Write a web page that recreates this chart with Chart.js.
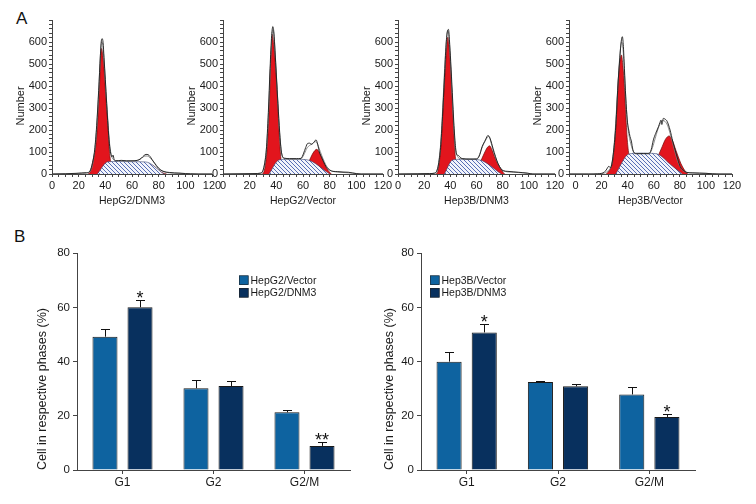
<!DOCTYPE html>
<html>
<head>
<meta charset="utf-8">
<script src="https://cdn.jsdelivr.net/npm/chart.js@4.4.1/dist/chart.umd.min.js"></script>
<style>
html,body{margin:0;padding:0;background:#fff;}
#wrap{position:relative;width:756px;height:504px;overflow:hidden;background:#fff;}
#wrap canvas{position:absolute;}
.panel{position:absolute;font-family:'Liberation Sans Narrow','Liberation Sans',Arial,sans-serif;font-size:17px;line-height:17px;color:#111;}
</style>
</head>
<body>
<div id="wrap">
  <div class="panel" style="left:16px;top:10px">A</div>
  <div class="panel" style="left:14px;top:228px">B</div>
</div>
<script>
// ---------------- DATA ----------------
// Panel A: DNA histograms, points are [channel, number]
const histXTicksMax = 120;

const hepg2Dnm3Raw = [[0,0],[10,1],[18,3],[22,5],[26,6],[28,10],[30,40],[32,110],[33.5,220],[35,380],[36.3,540],[37,605],[37.6,615],[38.3,598],[39,530],[40,430],[41,320],[42,220],[43,140],[44,95],[45,78],[45.8,86],[46.6,66],[48,60],[52,62],[56,60],[60,60],[63,61],[65,64],[67,72],[69,84],[70.5,89],[72,88],[73.5,80],[75,66],[77,48],[79,32],[81,20],[84,11],[88,7],[92,5],[96,4],[100,2],[104,1],[110,0],[120,0]];
const hepg2Dnm3Fit = [[0,0],[20,2],[26,4],[29,15],[31,60],[33,170],[35,370],[36.5,560],[37.3,600],[38,590],[39,520],[40.3,390],[41.5,280],[43,150],[44.3,90],[46,66],[48,61],[55,59],[62,60],[66,67],[68.5,78],[70.5,82],[72.5,79],[74.5,68],[77,50],[80,27],[83,13],[87,6],[95,3],[105,0],[120,0]];
const hepg2Dnm3G1 = [[27,0],[28.5,8],[30.5,55],[33.3,155],[35.3,350],[36.3,500],[37.2,571],[38.1,540],[38.9,490],[40.4,350],[42.2,200],[43,110],[44,56],[45,25],[47,5],[48,0]];
const hepg2Dnm3S = [[34,0],[42,56],[50,57],[60,56],[70,55],[84,0]];
const hepg2Dnm3G2 = [[68,0],[70,20],[72,35],[74,41],[75.5,39],[77,32],[79,22],[81,12],[83,5],[86,0]];

const hepg2VectorRaw = [[0,0],[15,1],[24,2],[28,4],[29.5,10],[31,40],[32.5,110],[34,280],[35.3,480],[36.5,630],[37.4,670],[38.2,640],[39,560],[40,450],[41.2,320],[42.5,190],[43.6,110],[44.6,80],[46,72],[50,70],[55,70],[58.5,71],[60.5,95],[62,120],[63.5,139],[65,140],[66.5,135],[68,143],[69.8,155],[71,135],[72.3,100],[74,75],[75.5,55],[77.4,33],[80,18],[82.4,12],[86,11],[90,9],[94,8],[97,5],[100,2],[104,0],[120,0]];
const hepg2VectorFit = [[0,0],[22,1],[28,3],[30,15],[31.5,60],[33,150],[34.5,330],[35.8,520],[36.9,640],[37.6,655],[38.5,610],[39.6,500],[41,340],[42.4,190],[43.8,100],[45.5,72],[50,67],[56,67],[59,72],[61,92],[63,118],[65,130],[67,138],[69,147],[70.5,142],[72,118],[74,85],[76,56],[78,32],[80.5,17],[84,10],[90,7],[97,4],[103,0],[120,0]];
const hepg2VectorG1 = [[29.5,0],[30.7,10],[32,50],[33.2,124],[34.5,276],[35.7,503],[36.5,594],[37.1,635],[38,590],[38.8,540],[39.5,480],[40.8,351],[42,200],[43.3,79],[44.5,35],[46,10],[48,0]];
const hepg2VectorS = [[34.5,0],[42,64],[48,67],[55,67],[62.7,65],[80,0]];
const hepg2VectorG2 = [[58,0],[62,25],[65.3,68],[67.5,95],[70.3,112],[72.5,95],[74.8,63],[76.5,40],[78.6,18],[81.2,0]];

const hep3bDnm3Raw = [[0,0],[15,1],[24,2],[28,4],[29.5,12],[31,45],[32.5,120],[34,260],[35.5,440],[36.8,590],[37.8,650],[38.6,657],[39.3,610],[40.3,510],[41.5,370],[42.8,220],[44,120],[45,88],[46.2,84],[47.5,76],[49,70],[55,68],[60,68],[62,80],[64.3,124],[66.8,155],[67.8,168],[68.7,175],[69.5,172],[70.5,160],[72.6,117],[74.5,80],[76.4,48],[78.5,25],[80.3,15],[84,12],[88,10],[92,8],[95.4,6],[99,4],[103,0],[120,0]];
const hep3bDnm3Fit = [[0,0],[22,1],[28,3],[30,20],[31.5,70],[33,170],[34.5,340],[36,520],[37.3,630],[38.2,650],[39,620],[40,520],[41.3,370],[42.6,220],[44,110],[45.5,80],[48,70],[55,67],[60,69],[62.5,90],[64.5,125],[66.5,148],[68.5,168],[69.5,170],[70.8,150],[72.5,112],[74.5,75],[76.5,45],[79,22],[82,12],[88,8],[96,5],[104,0],[120,0]];
const hep3bDnm3G1 = [[29,0],[30.3,8],[31.5,50],[32.8,124],[34,240],[34.9,351],[36,460],[36.7,533],[37.4,590],[38.1,622],[38.9,590],[40,503],[41.3,351],[42.6,200],[43.8,79],[45,35],[47,8],[49,0]];
const hep3bDnm3S = [[35.4,0],[41.8,64],[48,67],[55,67],[62.3,64],[79,0]];
const hep3bDnm3G2 = [[57,0],[61,30],[64.1,70],[66,95],[68,118],[70,128],[71.8,110],[73.8,79],[75.8,52],[77.7,33],[79.5,14],[81.5,0]];

const hep3bVectorRaw = [[-5,0],[10,0],[17,1],[20,3],[22,8],[23.5,18],[25.6,35],[26.8,28],[28,50],[29.5,120],[31,230],[32.5,400],[34,530],[35,600],[35.9,624],[36.6,590],[37.5,480],[38.5,350],[39.6,250],[40.8,200],[41.8,170],[42.8,150],[44,110],[45.4,94],[47,92],[52,93],[56,92],[58,110],[59.7,155],[61.5,185],[63.6,215],[64.8,235],[65.6,245],[66.2,225],[67.4,253],[68.5,250],[70.2,240],[72.5,200],[74.5,150],[76.4,109],[78.5,65],[80.3,33],[83,15],[85.4,7],[90,5],[95,4],[100,3],[105,1],[110,0],[120,0]];
const hep3bVectorFit = [[-5,0],[15,0],[20,2],[23,6],[25,15],[27,30],[28.5,70],[30,160],[31.5,300],[33,450],[34.3,560],[35.4,600],[36.4,570],[37.5,460],[38.8,320],[40,220],[41.5,160],[43,125],[44.5,100],[46.5,93],[52,92],[57,95],[59,120],[61,160],[63,200],[65,230],[67,243],[68.8,238],[70.5,222],[72.5,185],[74.5,140],[76.5,95],[78.5,55],[81,25],[84,10],[90,5],[100,3],[108,0],[120,0]];
const hep3bVectorG1 = [[23.5,0],[25,8],[26.5,22],[28.2,48],[29.5,110],[30.8,200],[31.8,310],[32.8,427],[34,510],[35.2,541],[36.2,500],[37.2,427],[38.5,276],[39.7,155],[41,86],[42.5,45],[44,18],[46,0]];
const hep3bVectorS = [[30.8,0],[41,91],[50,95],[58,94],[64,88],[73,42],[82,0]];
const hep3bVectorG2 = [[56,0],[60,40],[64.1,92],[66.5,125],[69,158],[71.8,173],[74.5,150],[76.9,109],[78.8,78],[80.8,48],[83.5,18],[86,0]];

// Panel B: cell-cycle bar charts
const phases = ['G1', 'G2', 'G2/M'];
const hepg2VectorPct = [49.2, 30.2, 21.3];
const hepg2VectorSem = [2.9, 2.9, 0.7];
const hepg2Dnm3Pct = [60.1, 31.0, 8.9];
const hepg2Dnm3Sem = [2.5, 1.7, 1.3];
const hepg2Sig = ['*', '', '**'];
const hep3bVectorPct = [40.0, 32.5, 27.9];
const hep3bVectorSem = [3.4, 0.5, 2.6];
const hep3bDnm3Pct = [50.8, 30.9, 19.6];
const hep3bDnm3Sem = [3.0, 0.7, 1.0];
const hep3bSig = ['*', '', '*'];

// ---------------- STYLE ----------------
const FONT = "'Liberation Sans Narrow','Liberation Sans',Arial,sans-serif";
const TXT = '#1a1a1a';
const AXIS = '#444';
const RED = '#e2151d';
const BLUE = '#0e63a0';
const NAVY = '#08305e';

function makeHatch() {
  const c = document.createElement('canvas');
  c.width = 4; c.height = 4;
  const g = c.getContext('2d');
  g.fillStyle = '#f2f4fb'; g.fillRect(0, 0, 4, 4);
  g.strokeStyle = '#4660ad'; g.lineWidth = 0.9;
  g.beginPath();
  g.moveTo(-1, -1); g.lineTo(5, 5);
  g.moveTo(-1, 3); g.lineTo(1, 5);
  g.moveTo(3, -1); g.lineTo(5, 1);
  g.stroke();
  return g.createPattern(c, 'repeat');
}
const HATCH = makeHatch();

const extras = {
  id: 'extras',
  afterDatasetsDraw(chart, args, opts) {
    const ctx = chart.ctx;
    const ys = chart.scales.y;
    ctx.save();
    chart.data.datasets.forEach((ds, di) => {
      if (!ds.errors) return;
      const meta = chart.getDatasetMeta(di);
      meta.data.forEach((el, i) => {
        const top = ys.getPixelForValue(ds.data[i] + ds.errors[i]);
        const x = Math.round(el.x) + 0.5;
        const ty = Math.round(top) + 0.5;
        ctx.strokeStyle = '#111'; ctx.lineWidth = 1;
        ctx.beginPath();
        ctx.moveTo(x, el.y); ctx.lineTo(x, ty);
        ctx.moveTo(x - 4.5, ty); ctx.lineTo(x + 4.5, ty);
        ctx.stroke();
        if (ds.sig && ds.sig[i]) {
          ctx.fillStyle = '#111';
          ctx.font = '18px ' + FONT;
          ctx.textAlign = 'center';
          ctx.textBaseline = 'alphabetic';
          ctx.fillText(ds.sig[i], el.x, top + 4);
        }
      });
    });
    ctx.restore();
  },
  afterDraw(chart, args, opts) {
    const ctx = chart.ctx;
    ctx.save();
    if (opts.yTitle) {
      const t = opts.yTitle;
      ctx.translate(t.x, t.y);
      ctx.rotate(-Math.PI / 2);
      ctx.fillStyle = TXT;
      ctx.font = t.size + 'px ' + FONT;
      ctx.textAlign = 'center';
      ctx.textBaseline = 'middle';
      ctx.fillText(t.text, 0, 0);
      ctx.setTransform(1, 0, 0, 1, 0, 0);
    }
    if (opts.legend) {
      const L = opts.legend;
      chart.data.datasets.forEach((ds, i) => {
        const y = L.y + i * L.step;
        ctx.fillStyle = ds.backgroundColor;
        ctx.fillRect(L.x, y, L.box, L.box);
        ctx.strokeStyle = '#222'; ctx.lineWidth = 0.6;
        ctx.strokeRect(L.x + 0.3, y + 0.3, L.box - 0.6, L.box - 0.6);
        ctx.fillStyle = TXT;
        ctx.font = L.size + 'px ' + FONT;
        ctx.textAlign = 'left';
        ctx.textBaseline = 'middle';
        ctx.fillText(ds.label, L.x + L.box + 2, y + L.box / 2 + 0.5);
      });
    }
    ctx.restore();
  }
};

function makeCanvas(left, top, w, h) {
  const c = document.createElement('canvas');
  c.width = Math.round(w); c.height = Math.round(h);
  c.style.left = left + 'px'; c.style.top = top + 'px';
  c.style.width = Math.round(w) + 'px'; c.style.height = Math.round(h) + 'px';
  document.getElementById('wrap').appendChild(c);
  return c;
}
const toXY = a => a.map(p => ({x: p[0], y: p[1]}));

function histogram(spec) {
  const yW = 42, padR = 14;
  const w = spec.axisRight - spec.axisLeft + yW + padR;
  const cv = makeCanvas(spec.axisLeft - yW, 8, w, 204);
  new Chart(cv, {
    type: 'line',
    data: {
      datasets: [
        {label: 'data', data: toXY(spec.raw), borderColor: '#1c1c1c', borderWidth: 0.9, fill: false, order: 0},
        {label: 'fit', data: toXY(spec.fit), borderColor: '#808080', borderWidth: 0.9, fill: false, order: 1},
        {label: 'S', data: toXY(spec.s), borderColor: '#39456e', borderWidth: 0.6, backgroundColor: HATCH, fill: 'origin', order: 2},
        {label: 'G1', data: toXY(spec.g1), borderColor: '#6e0b0b', borderWidth: 0.7, backgroundColor: RED, fill: 'origin', order: 3},
        {label: 'G2/M', data: toXY(spec.g2), borderColor: '#6e0b0b', borderWidth: 0.7, backgroundColor: RED, fill: 'origin', order: 3}
      ]
    },
    options: {
      responsive: false, animation: false, events: [],
      elements: {point: {radius: 0}, line: {cubicInterpolationMode: 'monotone'}},
      layout: {padding: {top: 12, right: padR, left: 0, bottom: 0}},
      plugins: {
        legend: {display: false}, tooltip: {enabled: false},
        extras: {yTitle: {text: 'Number', x: yW - 31, y: 98, size: 11}}
      },
      scales: {
        x: {
          type: 'linear', min: spec.xMin, max: histXTicksMax,
          grid: {drawOnChartArea: false, tickLength: 3, color: AXIS},
          border: {color: AXIS},
          ticks: {stepSize: 5, autoSkip: false, maxRotation: 0, padding: 2, color: TXT, font: {family: FONT, size: 11},
            callback: v => (v % 20 === 0 && v >= 0) ? String(v) : ''},
          title: {display: true, text: spec.title, color: TXT, font: {family: FONT, size: 10.5}, padding: {top: 0, bottom: 5}},
          afterFit: s => { s.height = 38; }
        },
        y: {
          min: 0, max: 700,
          grid: {drawOnChartArea: false, tickLength: 3, color: AXIS},
          border: {color: AXIS},
          ticks: {stepSize: 20, autoSkip: false, padding: 2, color: TXT, font: {family: FONT, size: 11},
            callback: v => (v % 100 === 0 && v <= 600) ? String(v) : ''},
          afterFit: s => { s.width = yW; }
        }
      }
    },
    plugins: [extras]
  });
}

histogram({axisLeft: 52, axisRight: 211.5, xMin: 0, title: 'HepG2/DNM3', raw: hepg2Dnm3Raw, fit: hepg2Dnm3Fit, g1: hepg2Dnm3G1, s: hepg2Dnm3S, g2: hepg2Dnm3G2});
histogram({axisLeft: 223, axisRight: 383, xMin: 0, title: 'HepG2/Vector', raw: hepg2VectorRaw, fit: hepg2VectorFit, g1: hepg2VectorG1, s: hepg2VectorS, g2: hepg2VectorG2});
histogram({axisLeft: 398, axisRight: 555, xMin: 0, title: 'Hep3B/DNM3', raw: hep3bDnm3Raw, fit: hep3bDnm3Fit, g1: hep3bDnm3G1, s: hep3bDnm3S, g2: hep3bDnm3G2});
histogram({axisLeft: 569, axisRight: 732, xMin: -5, title: 'Hep3B/Vector', raw: hep3bVectorRaw, fit: hep3bVectorFit, g1: hep3bVectorG1, s: hep3bVectorS, g2: hep3bVectorG2});

function barChart(spec) {
  const yW = 47, padR = 12;
  const cv = makeCanvas(spec.axisLeft - yW, 225, spec.areaW + yW + padR, 275);
  new Chart(cv, {
    type: 'bar',
    data: {
      labels: phases,
      datasets: [
        {label: spec.names[0], data: spec.vector, errors: spec.vectorErr, backgroundColor: BLUE, borderColor: '#1a1a1a', borderWidth: 1, borderSkipped: 'bottom', categoryPercentage: 0.77, barPercentage: 0.714},
        {label: spec.names[1], data: spec.dnm3, errors: spec.dnm3Err, sig: spec.sig, backgroundColor: NAVY, borderColor: '#1a1a1a', borderWidth: 1, borderSkipped: 'bottom', categoryPercentage: 0.77, barPercentage: 0.714}
      ]
    },
    options: {
      responsive: false, animation: false, events: [],
      layout: {padding: {top: 28.3, right: padR, left: 0, bottom: 0}},
      plugins: {
        legend: {display: false}, tooltip: {enabled: false},
        extras: {
          yTitle: {text: 'Cell in respective phases (%)', x: spec.titleX - (spec.axisLeft - yW), y: 389 - 225, size: 12.5},
          legend: {x: spec.legendX - (spec.axisLeft - yW), y: 275.5 - 225, step: 12.5, box: 9.5, size: 10.5}
        }
      },
      scales: {
        x: {
          grid: {display: true, drawOnChartArea: false, offset: false, tickLength: 4, color: AXIS},
          border: {color: AXIS},
          ticks: {padding: 1, color: TXT, font: {family: FONT, size: 12}},
          afterFit: s => { s.height = 30; }
        },
        y: {
          min: 0, max: 80,
          grid: {drawOnChartArea: false, tickLength: 4, color: AXIS},
          border: {color: AXIS},
          ticks: {stepSize: 20, padding: 3, color: TXT, font: {family: FONT, size: 11.5}},
          afterFit: s => { s.width = yW; }
        }
      }
    },
    plugins: [extras]
  });
}

barChart({axisLeft: 77, areaW: 273, titleX: 43, legendX: 239, names: ['HepG2/Vector', 'HepG2/DNM3'],
  vector: hepg2VectorPct, vectorErr: hepg2VectorSem, dnm3: hepg2Dnm3Pct, dnm3Err: hepg2Dnm3Sem, sig: hepg2Sig});
barChart({axisLeft: 421, areaW: 274, titleX: 390, legendX: 430, names: ['Hep3B/Vector', 'Hep3B/DNM3'],
  vector: hep3bVectorPct, vectorErr: hep3bVectorSem, dnm3: hep3bDnm3Pct, dnm3Err: hep3bDnm3Sem, sig: hep3bSig});
</script>
</body>
</html>
